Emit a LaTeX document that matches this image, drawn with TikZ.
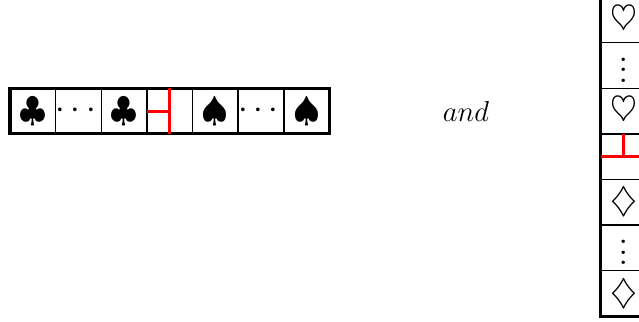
\documentclass[tikz,border=0pt]{standalone}
\usepackage{amsmath,amssymb}
\usetikzlibrary{positioning}

\begin{document}
\begin{tikzpicture}[x=0.5pt, y=0.5pt, node distance=0pt,
  cell/.style={draw, line width=0.8pt, minimum size=22.75pt, inner sep=0pt,
               outer sep=0pt, font=\fontsize{16}{19}\selectfont},
  frame/.style={line width=1.5pt},
  cut/.style={red, line width=1.4pt}]
\clip (0,0) rectangle (639,322);
\useasboundingbox (0,0) rectangle (639,322);
% row of clubs and spades
\node[cell] (c1) at (32.75,210.75) {$\clubsuit$};
\node[cell, right=of c1] (c2) {$\cdots$};
\node[cell, right=of c2] (c3) {$\clubsuit$};
\node[cell, right=of c3] (c4) {};
\node[cell, right=of c4] (c5) {$\spadesuit$};
\node[cell, right=of c5] (c6) {$\cdots$};
\node[cell, right=of c6] (c7) {$\spadesuit$};
\draw[frame] (c1.north west) rectangle (c7.south east);
\draw[cut] (c4.north) -- (c4.south);
\draw[cut] (c4.west) -- (c4.center);
\node[font=\fontsize{15.5}{18}\selectfont] (and) at (466,210.5) {$and$};
% column of hearts and diamonds
\node[cell] (r1) at (623.45,302.25) {$\heartsuit$};
\node[cell, below=of r1] (r2) {\raisebox{3pt}{\scalebox{1.3}{$\vdots$}}};
\node[cell, below=of r2] (r3) {$\heartsuit$};
\node[cell, below=of r3] (r4) {};
\node[cell, below=of r4] (r5) {$\diamondsuit$};
\node[cell, below=of r5] (r6) {\raisebox{3pt}{\scalebox{1.3}{$\vdots$}}};
\node[cell, below=of r6] (r7) {$\diamondsuit$};
\draw[frame] (r1.north west) rectangle (r7.south east);
\draw[cut] (r4.west) -- (r4.east);
\draw[cut] (r4.north) -- (r4.center);
\end{tikzpicture}
\end{document}
